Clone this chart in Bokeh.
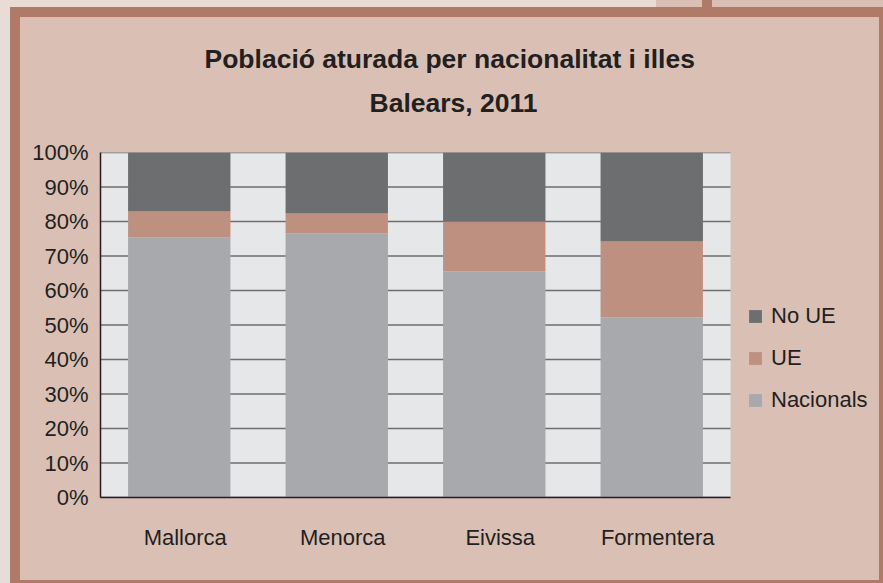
from bokeh.plotting import figure
from bokeh.models import (ColumnDataSource, Range1d, FixedTicker,
                          Legend, LegendItem, Title)
from bokeh.embed import file_html
from bokeh.resources import INLINE

# ---- data ----
islands = ["Mallorca", "Menorca", "Eivissa", "Formentera"]
nacionals = [75.4, 76.5, 65.5, 52.2]
ue = [7.5, 5.8, 14.5, 22.0]
no_ue = [17.1, 17.7, 20.0, 25.8]
series_names = ["Nacionals", "UE", "No UE"]
y_ticks = [0, 10, 20, 30, 40, 50, 60, 70, 80, 90, 100]
y_tick_labels = ["0%", "10%", "20%", "30%", "40%", "50%", "60%", "70%", "80%", "90%", "100%"]
title_line1 = "Població aturada per nacionalitat i illes"
title_line2 = "Balears, 2011"

# ---- styles ----
colors = ["#a7a9ac", "#be9080", "#6d6e70"]
PANEL = "#dac0b4"
BROWN = "#b07a68"
LIGHT = "#e8dcd5"
TEXT = "#231f20"
PLOT_BG = "#e6e7e8"
GRID = "#6d6e70"
FONT = "Liberation Sans"

W, H = 883, 583
LEFT, TOP, BOTTOM = 100, 152, 86          # frame borders in px
CAT_PX = 157.5                             # px per category
n = len(islands)
x_pos = [i + 0.5 for i in range(n)]        # category centres
label_pos = [x + 6 / CAT_PX for x in x_pos]  # category labels sit slightly right

source = ColumnDataSource(dict(x=x_pos, Nacionals=nacionals, UE=ue, **{"No UE": no_ue}))

p = figure(x_range=Range1d(0, (W - LEFT) / CAT_PX), y_range=Range1d(y_ticks[0], y_ticks[-1]),
           width=W, height=H, output_backend="svg", toolbar_location=None,
           min_border_left=LEFT, min_border_right=0, min_border_top=TOP, min_border_bottom=BOTTOM,
           background_fill_alpha=0, border_fill_alpha=0, outline_line_color=None)


def block(color, x, y, w, h):
    return "linear-gradient(%s, %s) %s / %s no-repeat" % (color, color, f"{x}px {y}px", f"{w} {h}")


p.styles = {
    "background": ", ".join([
        block(LIGHT, 0, 0, "656px", "7px"),
        block(BROWN, 702, 0, "10px", "7px"),
        block(LIGHT, 0, 0, "10px", "100%"),
        block(BROWN, 10, 7, "10px", "576px"),
        block(BROWN, 10, 7, "873px", "10px"),
        block(BROWN, 879, 7, "4px", "576px"),
        block(BROWN, 10, 580, "873px", "3px"),
        PANEL,
    ])
}

# plot area background and horizontal grid lines (only over the category area)
p.quad(left=0, right=n, bottom=y_ticks[0], top=y_ticks[-1], color=PLOT_BG, line_color=None)
p.segment(x0=[0] * len(y_ticks), x1=[n] * len(y_ticks), y0=y_ticks, y1=y_ticks,
          line_color=GRID, line_width=1.3)

renderers = p.vbar_stack(series_names, x="x", width=0.65, color=colors,
                         line_color=None, source=source)

# titles: spacer next to the frame, then the two title lines
p.add_layout(Title(text=" ", text_font_size="1px", standoff=26), "above")
p.add_layout(Title(text=title_line2, align="left", offset=269, standoff=12,
                   text_font_size="26.5px", text_font_style="bold",
                   text_font=FONT, text_color=TEXT), "above")
p.add_layout(Title(text=title_line1, align="left", offset=104, standoff=11,
                   text_font_size="26.5px", text_font_style="bold",
                   text_font=FONT, text_color=TEXT), "above")

# axes
for ax in (p.xaxis[0], p.yaxis[0]):
    ax.axis_line_color = TEXT
    ax.axis_line_width = 1.5
    ax.major_tick_out = 0
    ax.major_tick_in = 0
    ax.minor_tick_out = 0
    ax.minor_tick_in = 0
    ax.major_tick_line_color = None
    ax.minor_tick_line_color = None
    ax.major_label_text_font_size = "22px"
    ax.major_label_text_font = FONT
    ax.major_label_text_color = TEXT

p.yaxis.ticker = FixedTicker(ticks=y_ticks)
p.yaxis.major_label_overrides = {t: l for t, l in zip(y_ticks, y_tick_labels)}
p.yaxis.major_label_standoff = 12

p.xaxis.bounds = (0, n)
p.xaxis.ticker = FixedTicker(ticks=label_pos)
p.xaxis.major_label_overrides = {t: l for t, l in zip(label_pos, islands)}
p.xaxis.major_label_standoff = 27

p.xgrid.grid_line_color = None
p.ygrid.grid_line_color = None

legend = Legend(items=[LegendItem(label="No UE", renderers=[renderers[2]]),
                       LegendItem(label="UE", renderers=[renderers[1]]),
                       LegendItem(label="Nacionals", renderers=[renderers[0]])],
                location=(647, 84), margin=0, padding=0, spacing=16,
                glyph_width=16, glyph_height=16, label_standoff=8,
                label_text_font_size="22px", label_text_font=FONT, label_text_color=TEXT,
                border_line_color=None, background_fill_alpha=0)
p.add_layout(legend)

open("out.html", "w").write(file_html(p, INLINE))
